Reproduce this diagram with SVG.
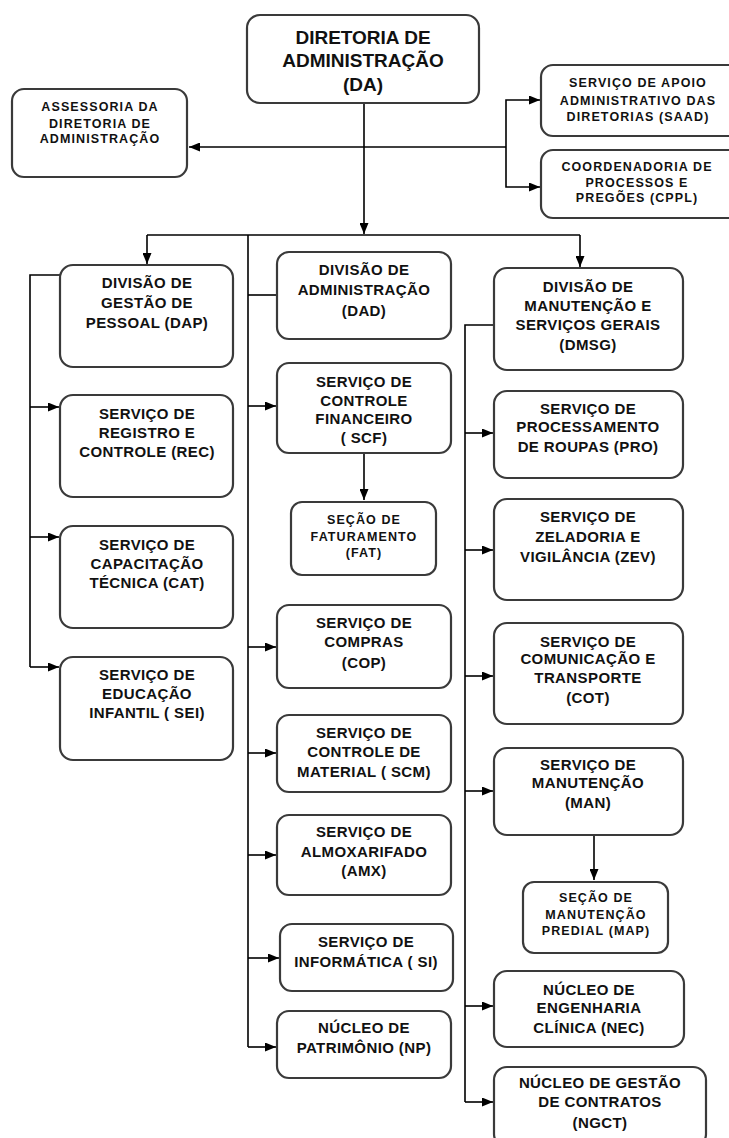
<svg xmlns="http://www.w3.org/2000/svg" width="729" height="1138" viewBox="0 0 729 1138">
<style>
.box{fill:#fff;stroke:#3a3a3a;stroke-width:2.2}
.t{font-family:"Liberation Sans",Arial,sans-serif;font-weight:bold;font-size:15px;letter-spacing:0.4px;fill:#111;text-anchor:middle}
.s{font-size:12.5px;letter-spacing:1.1px}
.big{font-size:19px;letter-spacing:0}
.c{fill:none;stroke:#000;stroke-width:1.6}
</style>
<defs>
<marker id="ah" markerUnits="userSpaceOnUse" markerWidth="11" markerHeight="9" refX="11" refY="4.5" orient="auto">
<path d="M0,0 L11,4.5 L0,9 z" fill="#000"/>
</marker>
</defs>
<rect width="729" height="1138" fill="#fff"/>
<g id="connectors">
<line class="c" x1="364" y1="103" x2="364" y2="234" marker-end="url(#ah)"/>
<line class="c" x1="506" y1="147" x2="189" y2="147" marker-end="url(#ah)"/>
<polyline class="c" points="506,147 506,100 540,100" marker-end="url(#ah)"/>
<polyline class="c" points="506,147 506,187 540,187" marker-end="url(#ah)"/>
<line class="c" x1="147" y1="235" x2="580" y2="235"/>
<line class="c" x1="147" y1="235" x2="147" y2="264" marker-end="url(#ah)"/>
<line class="c" x1="580" y1="235" x2="580" y2="267" marker-end="url(#ah)"/>
<polyline class="c" points="60,275 30,275 30,667"/>
<line class="c" x1="30" y1="407" x2="59" y2="407" marker-end="url(#ah)"/>
<line class="c" x1="30" y1="537" x2="59" y2="537" marker-end="url(#ah)"/>
<line class="c" x1="30" y1="667" x2="59" y2="667" marker-end="url(#ah)"/>
<line class="c" x1="248" y1="235" x2="248" y2="1047"/>
<line class="c" x1="248" y1="295" x2="277" y2="295"/>
<line class="c" x1="248" y1="406" x2="276" y2="406" marker-end="url(#ah)"/>
<line class="c" x1="364" y1="453" x2="364" y2="500" marker-end="url(#ah)"/>
<line class="c" x1="248" y1="647" x2="276" y2="647" marker-end="url(#ah)"/>
<line class="c" x1="248" y1="753" x2="276" y2="753" marker-end="url(#ah)"/>
<line class="c" x1="248" y1="855" x2="276" y2="855" marker-end="url(#ah)"/>
<line class="c" x1="248" y1="958" x2="279" y2="958" marker-end="url(#ah)"/>
<line class="c" x1="248" y1="1047" x2="276" y2="1047" marker-end="url(#ah)"/>
<polyline class="c" points="494,325 465,325 465,1102"/>
<line class="c" x1="465" y1="433" x2="493" y2="433" marker-end="url(#ah)"/>
<line class="c" x1="465" y1="550" x2="493" y2="550" marker-end="url(#ah)"/>
<line class="c" x1="465" y1="676" x2="493" y2="676" marker-end="url(#ah)"/>
<line class="c" x1="465" y1="791" x2="493" y2="791" marker-end="url(#ah)"/>
<line class="c" x1="594" y1="835" x2="594" y2="880" marker-end="url(#ah)"/>
<line class="c" x1="465" y1="1006" x2="493" y2="1006" marker-end="url(#ah)"/>
<line class="c" x1="465" y1="1102" x2="493" y2="1102" marker-end="url(#ah)"/>
</g>
<g id="DA"><rect class="box" x="247" y="15" width="232" height="88" rx="13"/>
<text class="t big"><tspan x="363" y="44">DIRETORIA DE</tspan><tspan x="363" y="67">ADMINISTRAÇÃO</tspan><tspan x="363" y="91">(DA)</tspan></text></g>
<g id="ASS"><rect class="box" x="12" y="89" width="175" height="88" rx="12"/>
<text class="t s"><tspan x="100" y="111">ASSESSORIA DA</tspan><tspan x="100" y="128">DIRETORIA  DE</tspan><tspan x="100" y="143">ADMINISTRAÇÃO</tspan></text></g>
<g id="SAAD"><rect class="box" x="541" y="65" width="200" height="71" rx="12"/>
<text class="t s"><tspan x="638" y="87">SERVIÇO DE APOIO</tspan><tspan x="638" y="105">ADMINISTRATIVO DAS</tspan><tspan x="638" y="121">DIRETORIAS  (SAAD)</tspan></text></g>
<g id="CPPL"><rect class="box" x="541" y="150" width="200" height="68" rx="12"/>
<text class="t s"><tspan x="637" y="171">COORDENADORIA  DE</tspan><tspan x="637" y="187">PROCESSOS E</tspan><tspan x="637" y="202">PREGÕES (CPPL)</tspan></text></g>
<g id="DAP"><rect class="box" x="60" y="265" width="173" height="102" rx="13"/>
<text class="t"><tspan x="147" y="288">DIVISÃO DE</tspan><tspan x="147" y="308">GESTÃO DE</tspan><tspan x="147" y="328">PESSOAL  (DAP)</tspan></text></g>
<g id="REC"><rect class="box" x="60" y="395" width="173" height="102" rx="13"/>
<text class="t"><tspan x="147" y="419">SERVIÇO DE</tspan><tspan x="147" y="438">REGISTRO E</tspan><tspan x="147" y="457">CONTROLE (REC)</tspan></text></g>
<g id="CAT"><rect class="box" x="60" y="526" width="173" height="102" rx="13"/>
<text class="t"><tspan x="147" y="550">SERVIÇO DE</tspan><tspan x="147" y="569">CAPACITAÇÃO</tspan><tspan x="147" y="588">TÉCNICA (CAT)</tspan></text></g>
<g id="SEI"><rect class="box" x="60" y="657" width="173" height="103" rx="13"/>
<text class="t"><tspan x="147" y="680">SERVIÇO DE</tspan><tspan x="147" y="699">EDUCAÇÃO</tspan><tspan x="147" y="718">INFANTIL ( SEI)</tspan></text></g>
<g id="DAD"><rect class="box" x="277" y="252" width="174" height="87" rx="12"/>
<text class="t"><tspan x="364" y="275">DIVISÃO DE</tspan><tspan x="364" y="295">ADMINISTRAÇÃO</tspan><tspan x="364" y="316">(DAD)</tspan></text></g>
<g id="SCF"><rect class="box" x="277" y="363" width="174" height="90" rx="12"/>
<text class="t"><tspan x="364" y="387">SERVIÇO DE</tspan><tspan x="364" y="406">CONTROLE</tspan><tspan x="364" y="424">FINANCEIRO</tspan><tspan x="364" y="443">( SCF)</tspan></text></g>
<g id="FAT"><rect class="box" x="291" y="502" width="145" height="73" rx="11"/>
<text class="t s"><tspan x="364" y="524">SEÇÃO DE</tspan><tspan x="364" y="541">FATURAMENTO</tspan><tspan x="364" y="557">(FAT)</tspan></text></g>
<g id="COP"><rect class="box" x="277" y="605" width="174" height="83" rx="12"/>
<text class="t"><tspan x="364" y="628">SERVIÇO DE</tspan><tspan x="364" y="647">COMPRAS</tspan><tspan x="364" y="668">(COP)</tspan></text></g>
<g id="SCM"><rect class="box" x="277" y="715" width="174" height="77" rx="12"/>
<text class="t"><tspan x="364" y="738">SERVIÇO DE</tspan><tspan x="364" y="757">CONTROLE DE</tspan><tspan x="364" y="777">MATERIAL ( SCM)</tspan></text></g>
<g id="AMX"><rect class="box" x="277" y="815" width="174" height="80" rx="12"/>
<text class="t"><tspan x="364" y="837">SERVIÇO DE</tspan><tspan x="364" y="857">ALMOXARIFADO</tspan><tspan x="364" y="876">(AMX)</tspan></text></g>
<g id="SI"><rect class="box" x="280" y="924" width="173" height="67" rx="12"/>
<text class="t"><tspan x="366" y="947">SERVIÇO DE</tspan><tspan x="366" y="967">INFORMÁTICA ( SI)</tspan></text></g>
<g id="NP"><rect class="box" x="277" y="1011" width="174" height="67" rx="12"/>
<text class="t"><tspan x="364" y="1033">NÚCLEO DE</tspan><tspan x="364" y="1053">PATRIMÔNIO (NP)</tspan></text></g>
<g id="DMSG"><rect class="box" x="494" y="268" width="189" height="102" rx="13"/>
<text class="t"><tspan x="588" y="292">DIVISÃO DE</tspan><tspan x="588" y="311">MANUTENÇÃO E</tspan><tspan x="588" y="330">SERVIÇOS GERAIS</tspan><tspan x="588" y="350">(DMSG)</tspan></text></g>
<g id="PRO"><rect class="box" x="494" y="391" width="189" height="87" rx="13"/>
<text class="t"><tspan x="588" y="414">SERVIÇO DE</tspan><tspan x="588" y="432">PROCESSAMENTO</tspan><tspan x="588" y="452">DE ROUPAS (PRO)</tspan></text></g>
<g id="ZEV"><rect class="box" x="494" y="499" width="189" height="101" rx="13"/>
<text class="t"><tspan x="588" y="522">SERVIÇO DE</tspan><tspan x="588" y="542">ZELADORIA E</tspan><tspan x="588" y="562">VIGILÂNCIA (ZEV)</tspan></text></g>
<g id="COT"><rect class="box" x="494" y="623" width="189" height="101" rx="13"/>
<text class="t"><tspan x="588" y="647">SERVIÇO DE</tspan><tspan x="588" y="664">COMUNICAÇÃO E</tspan><tspan x="588" y="683">TRANSPORTE</tspan><tspan x="588" y="703">(COT)</tspan></text></g>
<g id="MAN"><rect class="box" x="494" y="748" width="189" height="87" rx="13"/>
<text class="t"><tspan x="588" y="770">SERVIÇO DE</tspan><tspan x="588" y="788">MANUTENÇÃO</tspan><tspan x="588" y="808">(MAN)</tspan></text></g>
<g id="MAP"><rect class="box" x="523" y="882" width="145" height="71" rx="11"/>
<text class="t s"><tspan x="596" y="902">SEÇÃO DE</tspan><tspan x="596" y="919">MANUTENÇÃO</tspan><tspan x="596" y="935">PREDIAL (MAP)</tspan></text></g>
<g id="NEC"><rect class="box" x="494" y="971" width="190" height="76" rx="13"/>
<text class="t"><tspan x="589" y="995">NÚCLEO DE</tspan><tspan x="589" y="1013">ENGENHARIA</tspan><tspan x="589" y="1033">CLÍNICA (NEC)</tspan></text></g>
<g id="NGCT"><rect class="box" x="494" y="1067" width="212" height="80" rx="13"/>
<text class="t"><tspan x="600" y="1088">NÚCLEO DE GESTÃO</tspan><tspan x="600" y="1107">DE CONTRATOS</tspan><tspan x="600" y="1128">(NGCT)</tspan></text></g>
</svg>
